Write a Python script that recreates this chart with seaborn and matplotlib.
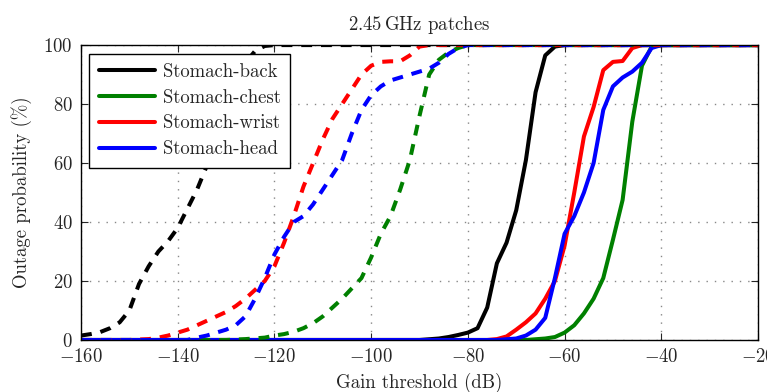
import pandas as pd
import matplotlib
matplotlib.use('Agg')
import matplotlib.pyplot as plt
import seaborn as sns

# Gain threshold (dB) and outage probability (%) per link, on-body 2.45 GHz patches
labels = ['Stomach-back', 'Stomach-chest', 'Stomach-wrist', 'Stomach-head']
colors = ['#000000', '#008000', '#ff0000', '#0000ff']

# solid curves
back_x = [-160, -90, -86, -84, -82, -80, -78, -76, -74, -72, -70, -68, -66, -64, -62, -60, -20]
back_y = [0, 0, 0.5, 1, 1.7, 2.5, 4, 11, 26, 33, 44, 61, 84, 96.5, 99.5, 100, 100]
chest_x = [-160, -68, -64, -62, -60, -58, -56, -54, -52, -50, -48, -46, -44, -42, -40, -20]
chest_y = [0, 0, 0.5, 1, 2.5, 5, 9, 14, 21, 34, 47.5, 74, 93, 99.5, 100, 100]
wrist_x = [-160, -76, -74, -72, -70, -68, -66, -64, -62, -60, -58, -56, -54, -52, -50, -48, -46, -44, -20]
wrist_y = [0, 0, 0.3, 1.2, 3.5, 6, 9, 14, 20, 32, 50, 69, 79, 91.5, 94.3, 94.6, 99, 100, 100]
head_x = [-160, -74, -70, -68, -66, -64, -62, -60, -58, -56, -54, -52, -50, -48, -46, -44, -42, -40, -20]
head_y = [0, 0, 0.5, 1.5, 3.5, 7.5, 21, 36, 42, 50, 60, 78, 86, 89, 91, 94, 99, 100, 100]

# dashed curves
back_d_x = [-160, -158, -156, -154, -152, -150, -148, -146, -144, -142, -140, -138, -136, -134,
            -132, -130, -128, -126, -124, -122, -120, -20]
back_d_y = [1.5, 2, 2.7, 4, 6, 10, 19, 25, 30, 33.5, 38, 44.5, 51, 59,
            68, 78, 87, 94, 98, 99.7, 100, 100]
chest_d_x = [-160, -130, -126, -122, -120, -118, -116, -114, -112, -110, -108, -106, -104, -102,
             -100, -98, -96, -94, -92, -90, -88, -86, -84, -82, -80, -20]
chest_d_y = [0, 0, 0.3, 0.8, 1.5, 2, 2.8, 4, 5.7, 8, 11, 14, 17.5, 21,
             28, 36, 42, 51, 61, 76, 90, 95, 97.5, 99, 100, 100]
wrist_d_x = [-160, -150, -146, -144, -142, -140, -138, -136, -134, -132, -130, -128, -126, -124,
             -122, -120, -118, -116, -114, -112, -110, -108, -106, -104, -102, -100, -98, -96,
             -94, -92, -90, -88, -20]
wrist_d_y = [0, 0, 0.3, 0.8, 1.5, 2.5, 3.5, 5, 6.5, 8, 9.5, 11.5, 14, 17,
             20, 25, 33, 42, 52, 60, 68, 75, 80, 85, 90, 93, 94.3, 94.5,
             94.5, 96.5, 99.5, 100, 100]
head_d_x = [-160, -138, -136, -134, -132, -130, -128, -126, -124, -122, -120, -118, -116, -114,
            -112, -110, -108, -106, -104, -102, -100, -98, -96, -94, -92, -90, -88, -86, -84,
            -82, -80, -20]
head_d_y = [0, 0, 0.8, 1.5, 2.5, 3.5, 5, 8, 14, 21, 29, 35, 40, 42,
            46, 51, 56, 61, 70, 78, 83, 86, 88, 89, 90, 91, 92, 94, 97,
            99, 100, 100]

solid = [(back_x, back_y), (chest_x, chest_y), (wrist_x, wrist_y), (head_x, head_y)]
dashed = [(back_d_x, back_d_y), (chest_d_x, chest_d_y), (wrist_d_x, wrist_d_y), (head_d_x, head_d_y)]

sns.set_style('ticks')
plt.rcParams['font.family'] = ['cmr10', 'DejaVu Serif']
plt.rcParams['mathtext.fontset'] = 'cm'
plt.rcParams['axes.formatter.use_mathtext'] = True
fs = 13.5
plt.rcParams['font.size'] = fs

fig, ax = plt.subplots(figsize=(7.67, 3.92), dpi=100)
fig.subplots_adjust(left=0.1056, right=0.9883, top=0.885, bottom=0.1327)

lw = 2.9
for (x, y), lab, c in zip(solid, labels, colors):
    df = pd.DataFrame({'gain': x, 'outage': y})
    sns.lineplot(data=df, x='gain', y='outage', color=c, lw=lw, label=lab, ax=ax)
for (x, y), c in zip(dashed, colors):
    df = pd.DataFrame({'gain': x, 'outage': y})
    sns.lineplot(data=df, x='gain', y='outage', color=c, lw=lw, ax=ax)
    ax.lines[-1].set_dashes((2.7, 2.2))

ax.set_xlim(-160, -20)
ax.set_ylim(0, 100)
ax.set_xticks(range(-160, -19, 20))
ax.set_yticks(range(0, 101, 20))
ax.tick_params(direction='in', top=True, right=True, length=5, width=0.8, labelsize=fs, pad=6)
ax.grid(True, linestyle=(0, (1, 5)), color='#888888', lw=1)
for s in ax.spines.values():
    s.set_linewidth(1)
    s.set_color('black')

ax.set_xlabel('Gain threshold (dB)', fontsize=fs, labelpad=5)
ax.set_ylabel('Outage probability (%)', fontsize=fs, labelpad=8)
ax.set_title(r'2.45$\,$GHz patches', fontsize=fs, pad=11)

leg = ax.legend(loc='upper left', frameon=True, fancybox=False, edgecolor='black',
                framealpha=1, handlelength=3.0, handletextpad=0.4, borderaxespad=0.45,
                fontsize=fs, labelspacing=0.42, borderpad=0.5)
leg.get_frame().set_linewidth(1)
leg.set_zorder(10)

fig.savefig('out.png', dpi=100)
